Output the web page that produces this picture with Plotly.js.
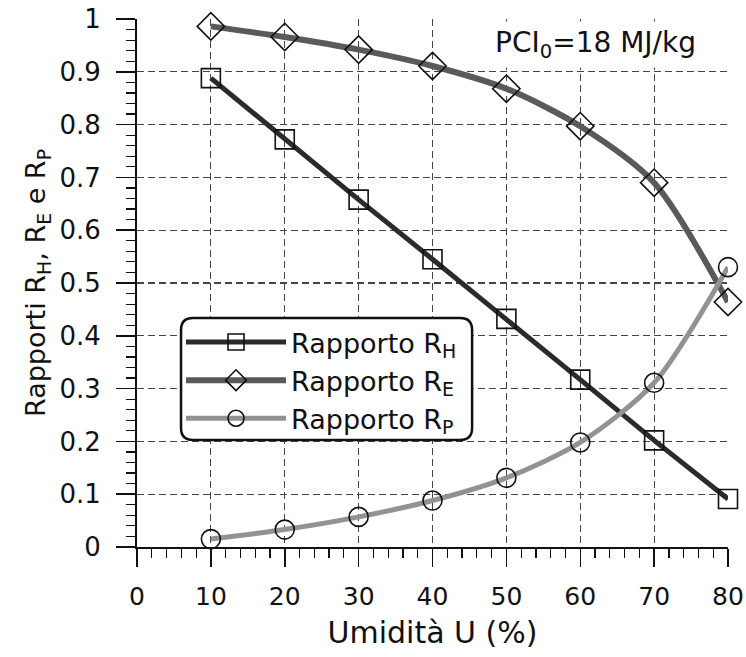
<!DOCTYPE html>
<html><head><meta charset="utf-8">
<script src="https://cdn.plot.ly/plotly-3.0.1.min.js"></script>
<style>html,body{margin:0;padding:0;background:#fff;}</style>
</head><body><div id="chart" style="width:746px;height:657px;"></div>
<script>
const umidita = [10, 20, 30, 40, 50, 60, 70, 80];
const rapportoRH = [0.888, 0.772, 0.658, 0.545, 0.432, 0.317, 0.202, 0.091];
const rapportoRE = [0.986, 0.966, 0.942, 0.911, 0.868, 0.797, 0.690, 0.464];
const rapportoRP = [0.015, 0.033, 0.057, 0.088, 0.131, 0.198, 0.311, 0.530];
const seriesNames = ['Rapporto R<sub>H</sub>', 'Rapporto R<sub>E</sub>', 'Rapporto R<sub>P</sub>'];
const xTicks = [0, 10, 20, 30, 40, 50, 60, 70, 80];
const yTicks = [0, 0.1, 0.2, 0.3, 0.4, 0.5, 0.6, 0.7, 0.8, 0.9, 1];
const yTickLabels = ['0', '0.1', '0.2', '0.3', '0.4', '0.5', '0.6', '0.7', '0.8', '0.9', '1'];
const annotText = 'PCI<sub>0</sub>=18 MJ/kg';

const FONT = 'DejaVu Sans, Liberation Sans, Arial, sans-serif';

function trace(y, name, lineColor, lineWidth, symbol, size, smooth) {
  return {
    x: umidita, y: y, name: name, type: 'scatter', mode: 'lines+markers',
    cliponaxis: false,
    line: {color: lineColor, width: lineWidth, shape: smooth ? 'spline' : 'linear', smoothing: 0.8},
    marker: {symbol: symbol, size: size, color: '#111', line: {width: 1.6, color: '#111'}}
  };
}

const data = [
  trace(rapportoRH, seriesNames[0], '#2b2b2b', 5, 'square-open', 19, false),
  trace(rapportoRE, seriesNames[1], '#5a5a5a', 6, 'diamond-open', 21, true),
  trace(rapportoRP, seriesNames[2], '#929292', 5, 'circle-open', 19, true)
];

const bx0 = 0.0745, bx1 = 0.567, by0 = 0.2027, by1 = 0.4337, rx = 0.0203, ry = 0.0227;
const boxPath = `M${bx0+rx},${by1} L${bx1-rx},${by1} Q${bx1},${by1} ${bx1},${by1-ry} L${bx1},${by0+ry} Q${bx1},${by0} ${bx1-rx},${by0} L${bx0+rx},${by0} Q${bx0},${by0} ${bx0},${by0+ry} L${bx0},${by1-ry} Q${bx0},${by1} ${bx0+rx},${by1} Z`;

const gridStyle = {showgrid: true, gridcolor: '#444', gridwidth: 1.2, griddash: '7px,4px'};

const layout = {
  width: 746, height: 657,
  margin: {l: 137, r: 18, t: 19, b: 110},
  paper_bgcolor: '#fff', plot_bgcolor: '#fff',
  font: {family: FONT, color: '#111', size: 24},
  showlegend: true,
  legend: {
    x: 0.0745, y: 0.4337, xanchor: 'left', yanchor: 'top',
    bgcolor: 'rgba(0,0,0,0)', borderwidth: 0,
    font: {family: FONT, size: 27, color: '#111'},
    itemwidth: 100, tracegroupgap: 0
  },
  xaxis: Object.assign({
    range: [0, 80], tickvals: xTicks, ticktext: xTicks.map(String),
    ticks: 'outside', ticklen: 18, tickwidth: 1.5, tickcolor: '#111',
    showline: true, linecolor: '#111', linewidth: 2,
    zeroline: false, ticklabelstandoff: 8,
    minor: {dtick: 2, ticks: 'outside', ticklen: 9, tickwidth: 1.2, tickcolor: '#111', showgrid: false},
    tickfont: {family: FONT, size: 25, color: '#111'},
    title: {text: 'Umidità U (%)', font: {family: FONT, size: 30, color: '#111'}, standoff: 12}
  }, gridStyle),
  yaxis: Object.assign({
    range: [0, 1], tickvals: yTicks, ticktext: yTickLabels,
    ticks: 'outside', ticklen: 19, tickwidth: 1.5, tickcolor: '#111',
    showline: true, linecolor: '#111', linewidth: 2,
    zeroline: false, ticklabelstandoff: 10,
    minor: {dtick: 0.02, ticks: 'outside', ticklen: 9, tickwidth: 1.2, tickcolor: '#111', showgrid: false},
    tickfont: {family: FONT, size: 26, color: '#111'},
    title: {text: 'Rapporti R<sub>H</sub>, R<sub>E</sub> e R<sub>P</sub>', font: {family: FONT, size: 27, color: '#111'}, standoff: 6}
  }, gridStyle),
  shapes: [{
    type: 'path', xref: 'paper', yref: 'paper', path: boxPath,
    fillcolor: '#fff', line: {color: '#111', width: 2.5}, layer: 'above'
  }],
  annotations: [{
    text: annotText, xref: 'paper', yref: 'paper', x: 0.775, y: 0.951,
    xanchor: 'center', yanchor: 'middle', showarrow: false,
    bgcolor: '#fff', borderpad: 4,
    font: {family: FONT, size: 28, color: '#111'}
  }]
};

Plotly.newPlot('chart', data, layout, {displayModeBar: false, staticPlot: true});
</script>
</body></html>
